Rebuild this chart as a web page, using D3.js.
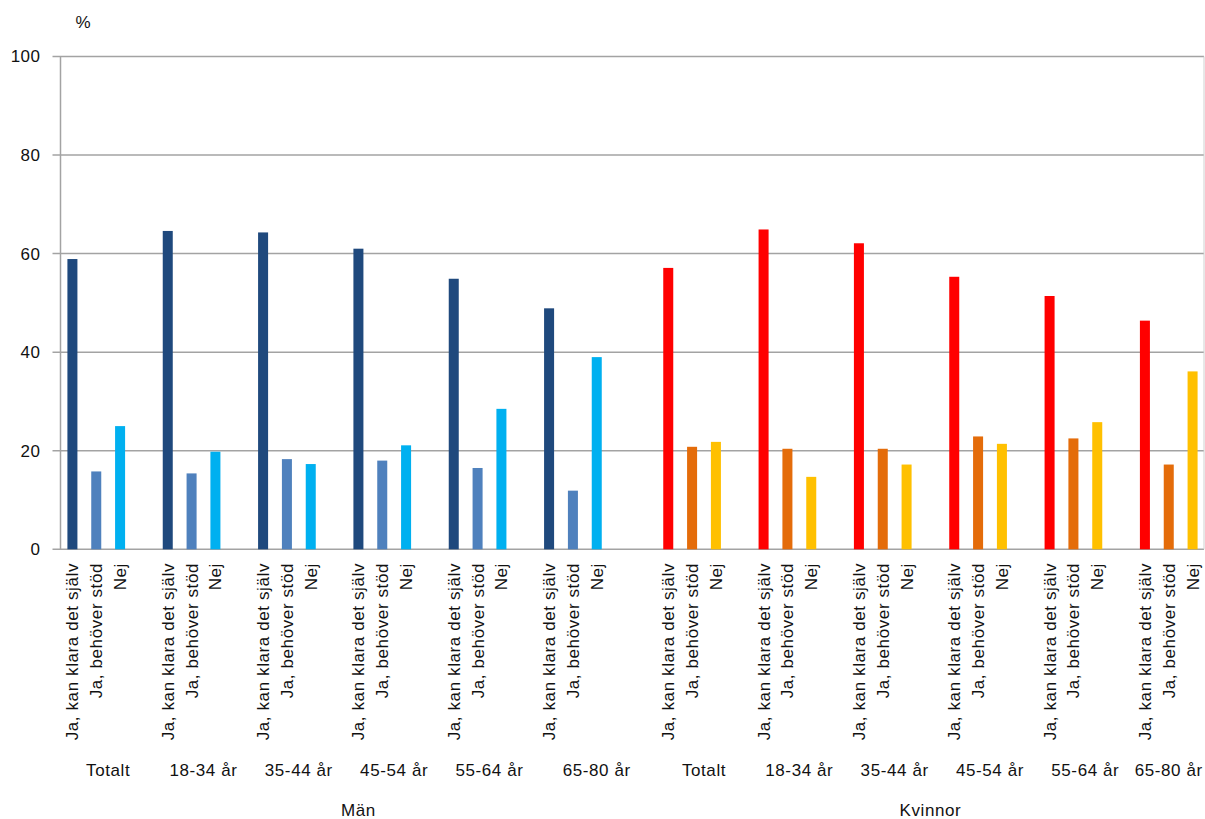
<!DOCTYPE html>
<html>
<head>
<meta charset="utf-8">
<script src="https://cdn.jsdelivr.net/npm/d3@7"></script>
<style>
  body { margin: 0; background: #fff; }
  text { font-family: "Liberation Sans", Arial, sans-serif; fill: #111; }
</style>
</head>
<body>
<svg width="1205" height="819"></svg>
<script>
const sexes = ["Män", "Kvinnor"];
const groups = ["Totalt", "18-34 år", "35-44 år", "45-54 år", "55-64 år", "65-80 år"];
const answers = ["Ja, kan klara det själv", "Ja, behöver stöd", "Nej"];

const man_kan = [58.9, 64.6, 64.3, 61.0, 54.9, 48.9];
const man_stod = [15.8, 15.4, 18.3, 18.0, 16.5, 11.9];
const man_nej = [25.0, 19.8, 17.3, 21.1, 28.5, 39.0];
const kvinnor_kan = [57.1, 64.9, 62.1, 55.3, 51.4, 46.4];
const kvinnor_stod = [20.8, 20.4, 20.4, 22.9, 22.5, 17.2];
const kvinnor_nej = [21.8, 14.7, 17.2, 21.4, 25.8, 36.1];

const y_ticks = [0, 20, 40, 60, 80, 100];

const colors = [
  ["#1F497D", "#4F81BD", "#00B0F0"],
  ["#FF0000", "#E46C0A", "#FFC000"]
];

const values = [
  [man_kan, man_stod, man_nej],
  [kvinnor_kan, kvinnor_stod, kvinnor_nej]
];

const margin = { left: 60.5, right: 0.5, top: 56.5, bottom: 269.7 },
  width = 1205,
  height = 819;

const svg = d3.select("svg");

// one slot per bar, an empty slot after each group, one more between Män and Kvinnor
const slots = [];
const group_spans = [];
const sex_spans = [];
sexes.forEach((sex, si) => {
  const sex_start = slots.length;
  groups.forEach((g, gi) => {
    const start = slots.length;
    answers.forEach((a, ai) => {
      slots.push({ key: "s" + slots.length, si, gi, ai, value: values[si][ai][gi] });
    });
    if (!(si === 1 && gi === groups.length - 1)) slots.push({ key: "s" + slots.length, empty: true });
    if (si === 0 && gi === groups.length - 1) slots.push({ key: "s" + slots.length, empty: true });
    group_spans.push({ label: g, first: start, last: slots.length - 1 });
  });
  sex_spans.push({ label: sex, first: sex_start, last: slots.length - 1 });
});

const x_scale = d3.scaleBand()
  .domain(slots.map(d => d.key))
  .range([margin.left, width - margin.right])
  .paddingInner(0.58)
  .paddingOuter(0.29);

const y_scale = d3.scaleLinear()
  .domain([0, 100])
  .range([height - margin.bottom, margin.top]);

const mid = (first, last) =>
  (x_scale(slots[first].key) + x_scale(slots[last].key) + x_scale.bandwidth()) / 2;

// grid
svg.append("g")
  .selectAll("line")
  .data(y_ticks)
  .join("line")
  .attr("x1", margin.left - 8)
  .attr("x2", width - 1)
  .attr("y1", d => y_scale(d))
  .attr("y2", d => y_scale(d))
  .attr("stroke", "#a3a3a3")
  .attr("stroke-width", 1.5);

svg.append("line")
  .attr("x1", margin.left).attr("x2", margin.left)
  .attr("y1", y_scale(100)).attr("y2", y_scale(0))
  .attr("stroke", "#a3a3a3")
  .attr("stroke-width", 1.5);

svg.append("line")
  .attr("x1", width - 1).attr("x2", width - 1)
  .attr("y1", y_scale(100)).attr("y2", y_scale(0))
  .attr("stroke", "#d0d0d0")
  .attr("stroke-width", 1);

// y labels
const y_axis = d3.axisLeft(y_scale).tickValues(y_ticks).tickSize(0).tickPadding(20);
svg.append("g")
  .attr("transform", `translate(${margin.left},0)`)
  .call(y_axis)
  .call(g => g.select(".domain").remove())
  .selectAll("text")
  .style("font-size", "17px")
  .style("letter-spacing", "0.5px")
  .attr("fill", "#111");

svg.append("text")
  .attr("x", 83)
  .attr("y", 28)
  .attr("text-anchor", "middle")
  .style("font-size", "17px")
  .text("%");

// bars
svg.append("g")
  .selectAll("rect")
  .data(slots.filter(d => !d.empty))
  .join("rect")
  .attr("x", d => x_scale(d.key))
  .attr("width", x_scale.bandwidth())
  .attr("y", d => y_scale(d.value))
  .attr("height", d => y_scale(0) - y_scale(d.value))
  .attr("fill", d => colors[d.si][d.ai]);

// answer labels, rotated
svg.append("g")
  .selectAll("text")
  .data(slots.filter(d => !d.empty))
  .join("text")
  .attr("transform", d => `translate(${x_scale(d.key) + x_scale.bandwidth() / 2},563) rotate(-90)`)
  .attr("text-anchor", "end")
  .attr("dy", "0.35em")
  .style("font-size", "17px")
  .style("letter-spacing", "0.6px")
  .text(d => answers[d.ai]);

// age group labels
svg.append("g")
  .selectAll("text")
  .data(group_spans)
  .join("text")
  .attr("x", d => mid(d.first, d.last))
  .attr("y", 776)
  .attr("text-anchor", "middle")
  .style("font-size", "17px")
  .style("letter-spacing", "0.6px")
  .text(d => d.label);

// sex labels
svg.append("g")
  .selectAll("text")
  .data(sex_spans)
  .join("text")
  .attr("x", d => mid(d.first, d.last))
  .attr("y", 816)
  .attr("text-anchor", "middle")
  .style("font-size", "17px")
  .style("letter-spacing", "0.6px")
  .text(d => d.label);
</script>
</body>
</html>
